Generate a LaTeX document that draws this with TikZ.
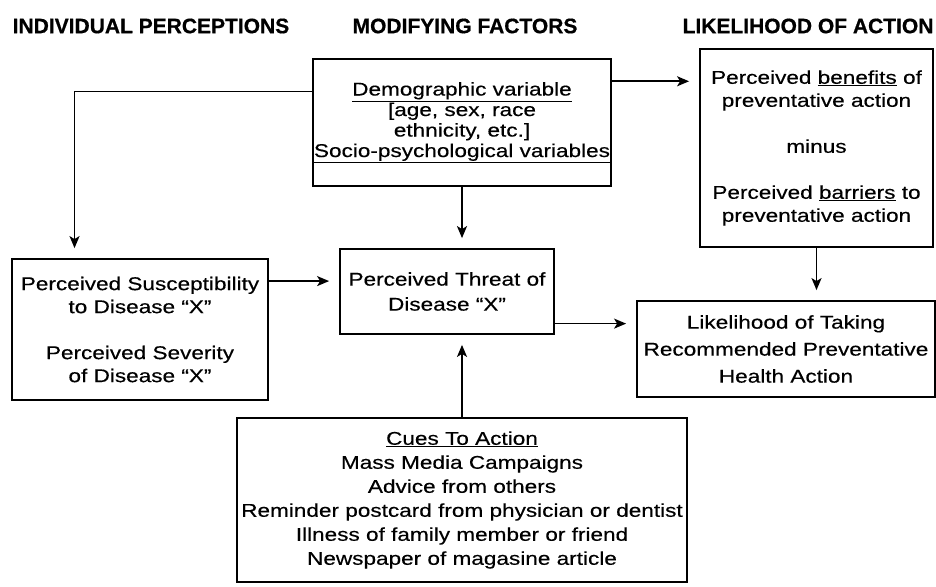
\documentclass[tikz,border=0pt]{standalone}
\usepackage{fontspec}
\usepackage{tikz}
\usetikzlibrary{calc,arrows.meta}
\setmainfont{Liberation Sans}[FakeStretch=1.22,FakeBold=0.4]
\newfontfamily\hbheadfont{Liberation Sans}[FakeBold=0.6]
\tikzset{
  hbbox/.style={draw, line width=1.8pt, align=center, inner xsep=1pt, inner ysep=0pt, font=\fontsize{18.5}{23}\selectfont},
  hbarrow/.style={line width=1.7pt, -{Stealth[length=12pt,width=10pt,inset=3pt]}, shorten >=10pt},
  hbhead/.style={font=\hbheadfont\bfseries\fontsize{21}{24}\selectfont}
}
\newcommand{\hbbox}[7][]{\node[hbbox,#1,minimum width=#5,minimum height=#6] (#2) at ($(O)+(#3,#4)$) {#7};}

\begin{document}
\begin{tikzpicture}[x=1pt,y=-1pt]

    \coordinate (O) at (0,0);
    \useasboundingbox (O) rectangle (936,586);

    \node[hbhead] (hindiv) at ($(O)+(151,26)$) {INDIVIDUAL PERCEPTIONS};
    \node[hbhead] (hmodif) at ($(O)+(465,26)$) {MODIFYING FACTORS};
    \node[hbhead] (hlikel) at ($(O)+(808,26)$) {LIKELIHOOD OF ACTION};

    \hbbox[font=\fontsize{18.5}{20.5}\selectfont]{demo}{462}{122.5}{290}{127}{\underline{Demographic variable}\\{[}age, sex, race\\ethnicity, etc.]\\\underline{Socio-psychological variables}}
    \hbbox{benef}{816.5}{148}{233}{198}{Perceived \underline{benefits} of\\preventative action\\[23pt]minus\\[23pt]Perceived \underline{barriers} to\\preventative action}
    \hbbox{susc}{140}{329.5}{256}{141}{Perceived Susceptibility\\to Disease ``X''\\[23pt]Perceived Severity\\of Disease ``X''}
    \hbbox[font=\fontsize{18.5}{25}\selectfont]{threat}{447}{291.5}{214}{85}{Perceived Threat of\\Disease ``X''}
    \hbbox[font=\fontsize{18.5}{27}\selectfont]{likely}{786}{349}{298}{96}{Likelihood of Taking\\Recommended Preventative\\Health Action}
    \hbbox[font=\fontsize{18.5}{24}\selectfont]{cues}{462}{500}{450}{164}{\underline{Cues To Action}\\Mass Media Campaigns\\Advice from others\\Reminder postcard from physician or dentist\\Illness of family member or friend\\Newspaper of magasine article}

    \coordinate (demoL) at ($(demo.north west)!0.26!(demo.south west)$);
    \coordinate (demoR) at ($(demo.north east)!0.18!(demo.south east)$);
    \coordinate (suscT) at ($(susc.north west)!0.246!(susc.north east)$);
    \coordinate (threatL) at ($(threat.north west)!0.38!(threat.south west)$);
    \coordinate (threatR) at ($(threat.north east)!0.87!(threat.south east)$);

    \draw[hbarrow] (demoL) -| (suscT);
    \draw[hbarrow] (demoR) -- (demoR -| benef.west);
    \draw[hbarrow] (demo.south) -- (demo.south |- threat.north);
    \draw[hbarrow] (susc.east |- threatL) -- (threatL);
    \draw[hbarrow] (threatR) -- (threatR -| likely.west);
    \draw[hbarrow] (benef.south) -- (benef.south |- likely.north);
    \draw[hbarrow] (cues.north) -- (cues.north |- threat.south);

\end{tikzpicture}
\end{document}
